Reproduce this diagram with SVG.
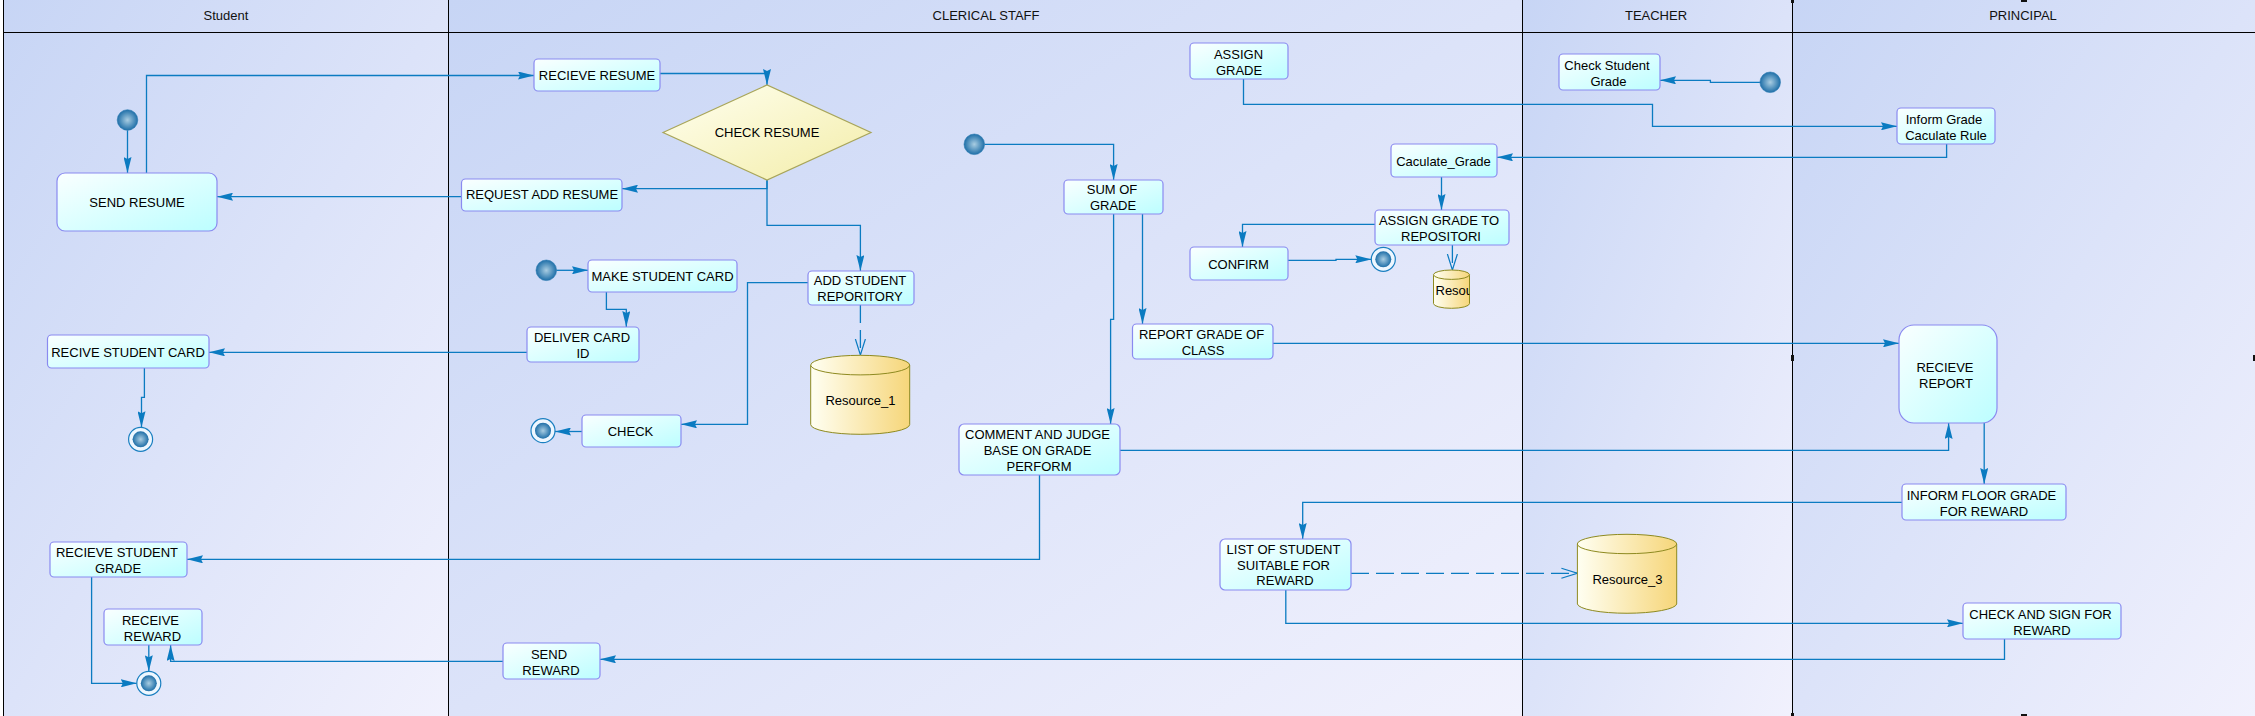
<svg xmlns="http://www.w3.org/2000/svg" width="2255" height="716" viewBox="0 0 2255 716">
<defs>
<linearGradient id="lane" x1="0" y1="0" x2="1" y2="1">
<stop offset="0" stop-color="#C7D5F5"/>
<stop offset="1" stop-color="#F1F1FD"/>
</linearGradient>
<linearGradient id="box" x1="0" y1="0" x2="1" y2="1">
<stop offset="0" stop-color="#FAFFFF"/>
<stop offset="1" stop-color="#BCFEFF"/>
</linearGradient>
<linearGradient id="dia" x1="0" y1="0" x2="1" y2="1">
<stop offset="0" stop-color="#FFFFF0"/>
<stop offset="1" stop-color="#F3EDA8"/>
</linearGradient>
<linearGradient id="cyl" x1="0" y1="0" x2="1" y2="0">
<stop offset="0" stop-color="#FFFFF2"/>
<stop offset="1" stop-color="#F6D67A"/>
</linearGradient>
<radialGradient id="dot" cx="0.5" cy="0.5" r="0.5">
<stop offset="0" stop-color="#A9CDE2"/>
<stop offset="1" stop-color="#1F6FA8"/>
</radialGradient>
<clipPath id="clipRes2"><rect x="1433.5" y="270" width="36" height="40"/></clipPath>
<marker id="arr" viewBox="0 0 16 8" refX="16" refY="4" markerWidth="16" markerHeight="8" markerUnits="userSpaceOnUse" orient="auto">
<path d="M0,0 L16,4 L0,8 L2,4 z" fill="#0B7BC1"/>
</marker>
<marker id="open" viewBox="0 0 16 12" refX="16" refY="6" markerWidth="16" markerHeight="12" markerUnits="userSpaceOnUse" orient="auto">
<path d="M0,1 L16,6 L0,11" fill="none" stroke="#0B7BC1" stroke-width="1.2"/>
</marker>
</defs>
<style>
.lane{fill:url(#lane)}
.ln{stroke:#000;stroke-width:1;fill:none}
.hd{font-family:"Liberation Sans",Arial,sans-serif;font-size:13px;fill:#111;text-anchor:middle}
.box{fill:url(#box);stroke:#8A8AF0;stroke-width:1.2}
.t{font-family:"Liberation Sans",Arial,sans-serif;font-size:13px;fill:#000;text-anchor:middle}
.dia{fill:url(#dia);stroke:#A8A55A;stroke-width:1.2}
.cyl{fill:url(#cyl);stroke:#8E8A20;stroke-width:1}
.start{fill:url(#dot);stroke:#2C7AB0;stroke-width:0.6}
.endo{fill:#EEF7FF;stroke:#1A7FC0;stroke-width:1.2}
.endi{fill:url(#dot)}
.c{fill:none;stroke:#0B7BC1;stroke-width:1.3;marker-end:url(#arr)}
.d{fill:none;stroke:#0B7BC1;stroke-width:1.3;stroke-dasharray:18 7;marker-end:url(#open)}
.hdl{fill:#111}
</style>

<g id="lanes">
<rect x="0" y="0" width="2255" height="716" fill="#FFFFFF"/>
<rect class="lane" x="3.5" y="0" width="445" height="716"/>
<rect class="lane" x="448.5" y="0" width="1074" height="716"/>
<rect class="lane" x="1522.5" y="0" width="270" height="716"/>
<rect class="lane" x="1792.5" y="0" width="462.5" height="716"/>
<path class="ln" d="M3.5,0 V716 M3.5,32.5 H2255 M448.5,0 V716 M1522.5,0 V716 M1792.5,0 V716"/>
<text class="hd" x="226" y="20">Student</text>
<text class="hd" x="986" y="20">CLERICAL STAFF</text>
<text class="hd" x="1656" y="20">TEACHER</text>
<text class="hd" x="2023" y="20">PRINCIPAL</text>
</g>

<g id="handles">
<rect class="hdl" x="1791" y="0" width="3" height="3"/>
<rect class="hdl" x="1791" y="355" width="3" height="6"/>
<rect class="hdl" x="1791" y="713" width="3" height="3"/>
<rect class="hdl" x="2021" y="0" width="6" height="2"/>
<rect class="hdl" x="2021" y="714" width="6" height="2"/>
<rect class="hdl" x="2253" y="355" width="2" height="6"/>
</g>

<g id="connectors">
<path class="c" d="M127.5,130.3 V173"/>
<path class="c" d="M146.5,173 V75.5 H534"/>
<path class="c" d="M660,73.5 H767 V85"/>
<path class="c" d="M767,180 V188.7 H622"/>
<path class="c" d="M767,180 V225.3 H860.4 V271"/>
<path class="c" d="M461.5,196.7 H217"/>
<path class="c" d="M556.6,270.3 H588"/>
<path class="c" d="M606.4,292 V309.3 H626.3 V327"/>
<path class="c" d="M527,352.3 H209"/>
<path class="c" d="M144.4,368 V397.3 H141.5 V427.3"/>
<path class="c" d="M808,282.7 H747.5 V424.3 H681"/>
<path class="c" d="M582,431.5 H555"/>
<path class="d" d="M860.4,305 V355"/>
<path class="c" d="M984.6,144.3 H1113.6 V180"/>
<path class="c" d="M1142.5,214 V324"/>
<path class="c" d="M1113.6,214 V319.3 H1110.6 V424"/>
<path class="c" d="M1039.5,475 V559.3 H187"/>
<path class="c" d="M1120,450.3 H1948.6 V423"/>
<path class="c" d="M1273,343.3 H1899"/>
<path class="c" d="M1243.5,79 V104.3 H1652.5 V126.3 H1897"/>
<path class="c" d="M1946.6,144 V157.3 H1497"/>
<path class="c" d="M1441.5,177 V210"/>
<path class="c" d="M1375,224.3 H1242.5 V247"/>
<path class="c" d="M1288,260.3 H1336 V259.3 H1371.3"/>
<path class="d" d="M1452.4,245 V270"/>
<path class="c" d="M1759.9,82.3 H1710.4 V80.3 H1660"/>
<path class="c" d="M1984.2,423 V484"/>
<path class="c" d="M1902,502.3 H1302.7 V539"/>
<path class="d" d="M1351,573.3 H1577.4"/>
<path class="c" d="M1285.8,590 V623.3 H1963"/>
<path class="c" d="M2004.5,639 V659.3 H600"/>
<path class="c" d="M503,661.3 H170.6 V645"/>
<path class="c" d="M148.8,645 V671.3"/>
<path class="c" d="M91.6,577 V683.3 H136.8"/>
</g>

<g id="start1"><circle class="start" cx="127.5" cy="120" r="10.3"/></g>
<g id="start2"><circle class="start" cx="546.3" cy="270.3" r="10.3"/></g>
<g id="start3"><circle class="start" cx="974.3" cy="144.3" r="10.3"/></g>
<g id="start4"><circle class="start" cx="1770.2" cy="82.3" r="10.3"/></g>

<g id="end1"><circle class="endo" cx="140.6" cy="439.3" r="12"/><circle class="endi" cx="140.6" cy="439.3" r="8"/></g>
<g id="end2"><circle class="endo" cx="543" cy="430.7" r="12"/><circle class="endi" cx="543" cy="430.7" r="8"/></g>
<g id="end3"><circle class="endo" cx="1383.3" cy="259.3" r="12"/><circle class="endi" cx="1383.3" cy="259.3" r="8"/></g>
<g id="end4"><circle class="endo" cx="148.8" cy="683.3" r="12"/><circle class="endi" cx="148.8" cy="683.3" r="8"/></g>

<g id="send_resume"><rect class="box" x="57" y="173" width="160" height="58" rx="8"/><text class="t" x="137" y="206.5">SEND RESUME</text></g>
<g id="recieve_resume"><rect class="box" x="534" y="59" width="126" height="32" rx="4"/><text class="t" x="597" y="80">RECIEVE RESUME</text></g>
<g id="check_resume"><polygon class="dia" points="663,132.5 767,85 871,132.5 767,180"/><text class="t" x="767" y="137">CHECK RESUME</text></g>
<g id="request_add_resume"><rect class="box" x="461.5" y="179" width="160.5" height="32" rx="4"/><text class="t" x="542" y="199">REQUEST ADD RESUME</text></g>
<g id="make_student_card"><rect class="box" x="588" y="260" width="149" height="32" rx="4"/><text class="t" x="662.5" y="281">MAKE STUDENT CARD</text></g>
<g id="deliver_card_id"><rect class="box" x="527" y="327" width="112" height="35" rx="4"/><text class="t" x="582" y="342">DELIVER CARD<tspan x="583" y="358">ID</tspan></text></g>
<g id="recive_student_card"><rect class="box" x="47.5" y="335" width="161.5" height="33" rx="4"/><text class="t" x="128" y="357">RECIVE STUDENT CARD</text></g>
<g id="add_student_reporitory"><rect class="box" x="808" y="271" width="106" height="34" rx="4"/><text class="t" x="860" y="284.5">ADD STUDENT<tspan x="860" y="300.5">REPORITORY</tspan></text></g>
<g id="check"><rect class="box" x="582" y="415" width="99" height="32" rx="4"/><text class="t" x="630.5" y="435.5">CHECK</text></g>
<g id="resource_1"><path class="cyl" d="M810.7,365.1 V424.5 A49.5,9.8 0 0 0 909.7,424.5 V365.1"/><ellipse class="cyl" cx="860.2" cy="365.1" rx="49.5" ry="9.8"/><text class="t" x="860.5" y="405">Resource_1</text></g>
<g id="assign_grade"><rect class="box" x="1190" y="43" width="98" height="36" rx="4"/><text class="t" x="1238.5" y="58.5">ASSIGN<tspan x="1239" y="74.5">GRADE</tspan></text></g>
<g id="sum_of_grade"><rect class="box" x="1064" y="180" width="99" height="34" rx="4"/><text class="t" x="1112" y="193.5">SUM OF<tspan x="1113" y="209.5">GRADE</tspan></text></g>
<g id="caculate_grade"><rect class="box" x="1391" y="144" width="106" height="33" rx="4"/><text class="t" x="1443.5" y="165.8">Caculate_Grade</text></g>
<g id="assign_grade_to_repositori"><rect class="box" x="1375" y="210" width="134" height="35" rx="4"/><text class="t" x="1439" y="224.5">ASSIGN GRADE TO<tspan x="1441" y="240.5">REPOSITORI</tspan></text></g>
<g id="confirm"><rect class="box" x="1190" y="247" width="98" height="33" rx="4"/><text class="t" x="1238.5" y="268.5">CONFIRM</text></g>
<g id="resource_2"><path class="cyl" d="M1433.5,274.7 V303.6 A18,4.7 0 0 0 1469.5,303.6 V274.7"/><ellipse class="cyl" cx="1451.5" cy="274.7" rx="18" ry="4.7"/><text clip-path="url(#clipRes2)" font-family="Liberation Sans, Arial, sans-serif" font-size="13" fill="#000" x="1435.5" y="295">Resou</text></g>
<g id="report_grade_of_class"><rect class="box" x="1132.5" y="324" width="140.5" height="35" rx="4"/><text class="t" x="1201.5" y="339">REPORT GRADE OF<tspan x="1203" y="354.5">CLASS</tspan></text></g>
<g id="comment_and_judge"><rect class="box" x="959" y="424" width="161" height="51" rx="5"/><text class="t" x="1037.5" y="439">COMMENT AND JUDGE<tspan x="1037.5" y="454.5">BASE ON GRADE</tspan><tspan x="1039" y="470.5">PERFORM</tspan></text></g>
<g id="list_of_student"><rect class="box" x="1220" y="539" width="131" height="51" rx="5"/><text class="t" x="1283.5" y="553.5">LIST OF STUDENT<tspan x="1283.5" y="570">SUITABLE FOR</tspan><tspan x="1285" y="585">REWARD</tspan></text></g>
<g id="resource_3"><path class="cyl" d="M1577.4,544 V604 A49.7,9.7 0 0 0 1676.7,604 V544"/><ellipse class="cyl" cx="1627" cy="544" rx="49.7" ry="9.7"/><text class="t" x="1627.5" y="584">Resource_3</text></g>
<g id="recieve_student_grade"><rect class="box" x="50" y="542" width="137" height="35" rx="4"/><text class="t" x="117" y="557">RECIEVE STUDENT<tspan x="118" y="573">GRADE</tspan></text></g>
<g id="receive_reward"><rect class="box" x="104" y="609" width="98" height="36" rx="4"/><text class="t" x="150.5" y="624.5">RECEIVE<tspan x="152.5" y="640.5">REWARD</tspan></text></g>
<g id="send_reward"><rect class="box" x="503" y="643" width="97" height="36" rx="4"/><text class="t" x="549" y="658.5">SEND<tspan x="551" y="674.5">REWARD</tspan></text></g>
<g id="check_student_grade"><rect class="box" x="1559" y="54" width="101" height="36" rx="4"/><text class="t" x="1607" y="70">Check Student<tspan x="1608.5" y="85.5">Grade</tspan></text></g>
<g id="inform_grade_caculate_rule"><rect class="box" x="1897" y="108" width="98" height="36" rx="4"/><text class="t" x="1944" y="124">Inform Grade<tspan x="1946" y="140">Caculate Rule</tspan></text></g>
<g id="recieve_report"><rect class="box" x="1899" y="325" width="98" height="98" rx="15"/><text class="t" x="1945" y="371.5">RECIEVE<tspan x="1946" y="387.5">REPORT</tspan></text></g>
<g id="inform_floor_grade"><rect class="box" x="1902" y="484" width="164" height="36" rx="4"/><text class="t" x="1981.5" y="500">INFORM FLOOR GRADE<tspan x="1984" y="515.5">FOR REWARD</tspan></text></g>
<g id="check_and_sign"><rect class="box" x="1963" y="603" width="158" height="36" rx="4"/><text class="t" x="2040.5" y="618.5">CHECK AND SIGN FOR<tspan x="2042" y="634.5">REWARD</tspan></text></g>
</svg>
